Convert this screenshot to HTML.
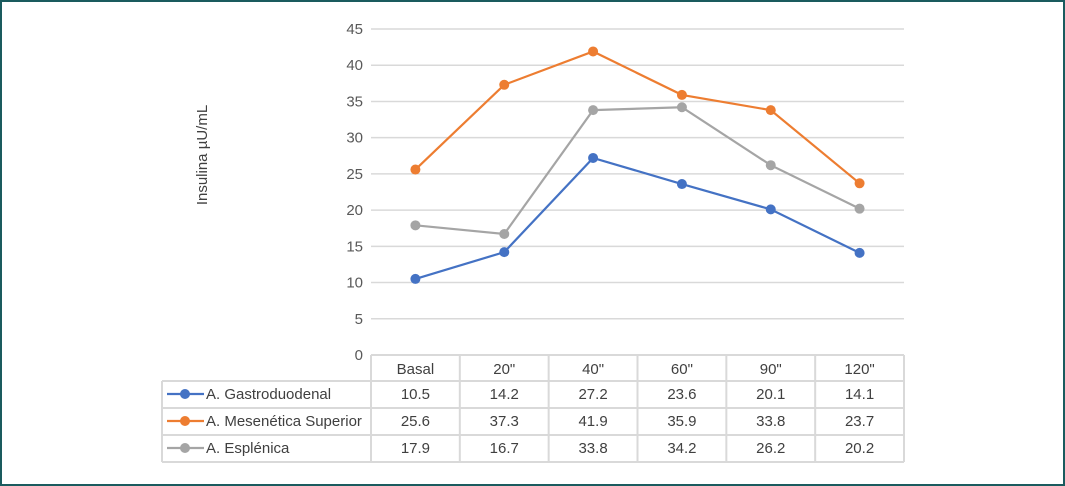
<!DOCTYPE html>
<html><head><meta charset="utf-8"><style>
html,body{margin:0;padding:0;background:#fff}
svg{display:block;font-family:"Liberation Sans",sans-serif}
</style></head><body>
<svg id="c" width="1065" height="486" viewBox="0 0 1065 486">
<rect x="1" y="1" width="1063" height="484" fill="#fff" stroke="#1a5b5e" stroke-width="2"/>
<text transform="translate(207,155) rotate(-90)" text-anchor="middle" font-size="15" fill="#404040">Insulina µU/mL</text>
<g id="grid"></g><g id="table"></g><g id="series"></g>
</svg>
<script>
const categories=["Basal","20\"","40\"","60\"","90\"","120\""];
const seriesNames=["A. Gastroduodenal","A. Mesenética Superior","A. Esplénica"];
const gastro=[10.5,14.2,27.2,23.6,20.1,14.1];
const mesent=[25.6,37.3,41.9,35.9,33.8,23.7];
const esplen=[17.9,16.7,33.8,34.2,26.2,20.2];
const yTicks=[0,5,10,15,20,25,30,35,40,45];
const colors=["#4472c4","#ed7d31","#a5a5a5"];
const NS="http://www.w3.org/2000/svg";
const x0=371,x1=904,y0=355,y1=29,yMax=45;
const cw=(x1-x0)/categories.length;
const xs=i=>x0+cw*(i+0.5);
const ys=v=>y0-(v/yMax)*(y0-y1);
function mk(tag,attrs,parent,txt){const e=document.createElementNS(NS,tag);for(const k in attrs)e.setAttribute(k,attrs[k]);if(txt!==undefined)e.textContent=txt;parent.appendChild(e);return e;}
const grid=document.getElementById('grid');
yTicks.forEach(t=>{
 const l=mk('line',{x1:x0,x2:x1,y1:ys(t),y2:ys(t),stroke:'#d9d9d9','stroke-width':1.5},grid);
 
 
 const tx=mk('text',{x:x0-8,y:ys(t)+5,'text-anchor':'end','font-size':15,fill:'#595959'},grid,String(t));
 
 
});
const tb=document.getElementById('table');
const rowsY=[355,381,408,435,462];
const tl=162;
const st={stroke:'#d9d9d9','stroke-width':2};
rowsY.forEach((y,i)=>{const l=mk('line',Object.assign({x1:i===0?x0:tl,x2:x1,y1:y,y2:y},st),tb);});
for(let i=0;i<=categories.length;i++){const x=x0+cw*i;const l=mk('line',Object.assign({x1:x,x2:x,y1:355,y2:462},st),tb);}
{const l=mk('line',Object.assign({x1:tl,x2:tl,y1:381,y2:462},st),tb);}
categories.forEach((c,i)=>{const t=mk('text',{x:xs(i),y:374,'text-anchor':'middle','font-size':15,fill:'#404040'},tb,c);});
const allData=[gastro,mesent,esplen];
allData.forEach((d,s)=>{
 const y=rowsY[s+1]+18;
 const lg=mk('line',{x1:167,x2:204,y1:y-5,y2:y-5,stroke:colors[s],'stroke-width':2.2},tb);
 
 
 const lc=mk('circle',{cx:185,cy:y-5,r:5,fill:colors[s]},tb);
 
 
 const ln=mk('text',{x:206,y:y,'font-size':15,fill:'#404040'},tb,seriesNames[s]);
 
 
 d.forEach((v,i)=>{const t=mk('text',{x:xs(i),y:y,'text-anchor':'middle','font-size':15,fill:'#404040'},tb,v.toFixed(1));});
});
const sg=document.getElementById('series');
allData.forEach((d,s)=>{
 const p=mk('polyline',{points:d.map((v,i)=>xs(i)+','+ys(v)).join(' '),fill:'none',stroke:colors[s],'stroke-width':2.2},sg);
 
 
 d.forEach((v,i)=>{const c=mk('circle',{cx:xs(i),cy:ys(v),r:5,fill:colors[s]},sg);});
});
</script>
</body></html>
